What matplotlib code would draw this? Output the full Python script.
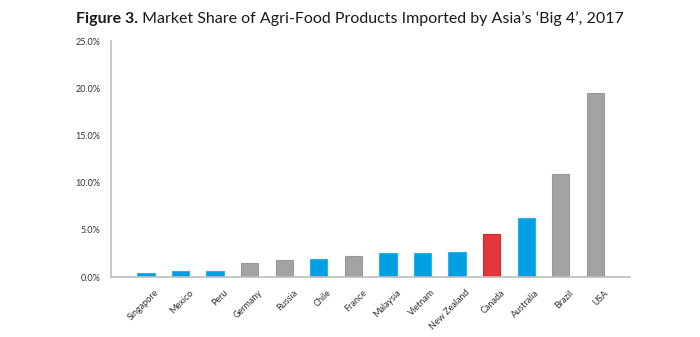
import matplotlib.pyplot as plt
import matplotlib.transforms as mtransforms
from matplotlib.ticker import FuncFormatter

countries = ["Singapore", "Mexico", "Peru", "Germany", "Russia", "Chile", "France",
             "Malaysia", "Vietnam", "New Zealand", "Canada", "Australia", "Brazil", "USA"]
share = [0.4, 0.6, 0.6, 1.5, 1.8, 1.9, 2.2, 2.5, 2.5, 2.6, 4.6, 6.3, 10.9, 19.5]
group = ["blue", "blue", "blue", "gray", "gray", "blue", "gray",
         "blue", "blue", "blue", "red", "blue", "gray", "gray"]

palette = {"blue": "#009FE3", "gray": "#A3A3A3", "red": "#E5353D"}
edge = {"blue": "#2AB0EA", "gray": "#989898", "red": "#D22A32"}

fig = plt.figure(figsize=(7, 3.37), dpi=100)
ax = fig.add_axes([0.159, 0.178, 0.741, 0.7])

x = range(len(countries))
ax.bar(x, share, width=0.5, color=[palette[g] for g in group],
       edgecolor=[edge[g] for g in group], linewidth=0.8, zorder=2)

ax.set_xlim(-1, 14)
ax.set_ylim(0, 25)
ax.set_yticks([0, 5, 10, 15, 20, 25])
ax.yaxis.set_major_formatter(FuncFormatter(lambda v, p: f"{v:.1f}%"))
ax.set_xticks(list(x))
ax.set_xticklabels(countries, rotation=45, ha="right", rotation_mode="anchor")

for s in ["top", "right"]:
    ax.spines[s].set_visible(False)
for s in ["left", "bottom"]:
    ax.spines[s].set_color("#BDBDBD")
    ax.spines[s].set_linewidth(1.2)
ax.tick_params(axis="both", length=0, labelsize=6.5, labelcolor="#333333")
ax.tick_params(axis="y", pad=8)
ax.tick_params(axis="x", pad=8)
shift = mtransforms.ScaledTranslation(6 / 72, 0, fig.dpi_scale_trans)
for lab in ax.get_xticklabels():
    lab.set_family("Lato")
    lab.set_transform(lab.get_transform() + shift)
for lab in ax.get_yticklabels():
    lab.set_family("Lato")

# title: bold prefix + regular text, centred together
bold = "Figure 3."
rest = " Market Share of Agri-Food Products Imported by Asia’s ‘Big 4’, 2017"
t1 = fig.text(0, 0.945, bold, fontsize=11.5, fontweight="bold", family="Lato",
              va="center", ha="left", color="#1a1a1a")
t2 = fig.text(0, 0.945, rest, fontsize=11.5, family="Lato",
              va="center", ha="left", color="#1a1a1a")
r = fig.canvas.get_renderer()
w1 = t1.get_window_extent(r).width / fig.bbox.width
w2 = t2.get_window_extent(r).width / fig.bbox.width
x0 = 0.5 - (w1 + w2) / 2
t1.set_x(x0)
t2.set_x(x0 + w1)

fig.savefig("out.png", dpi=100)
